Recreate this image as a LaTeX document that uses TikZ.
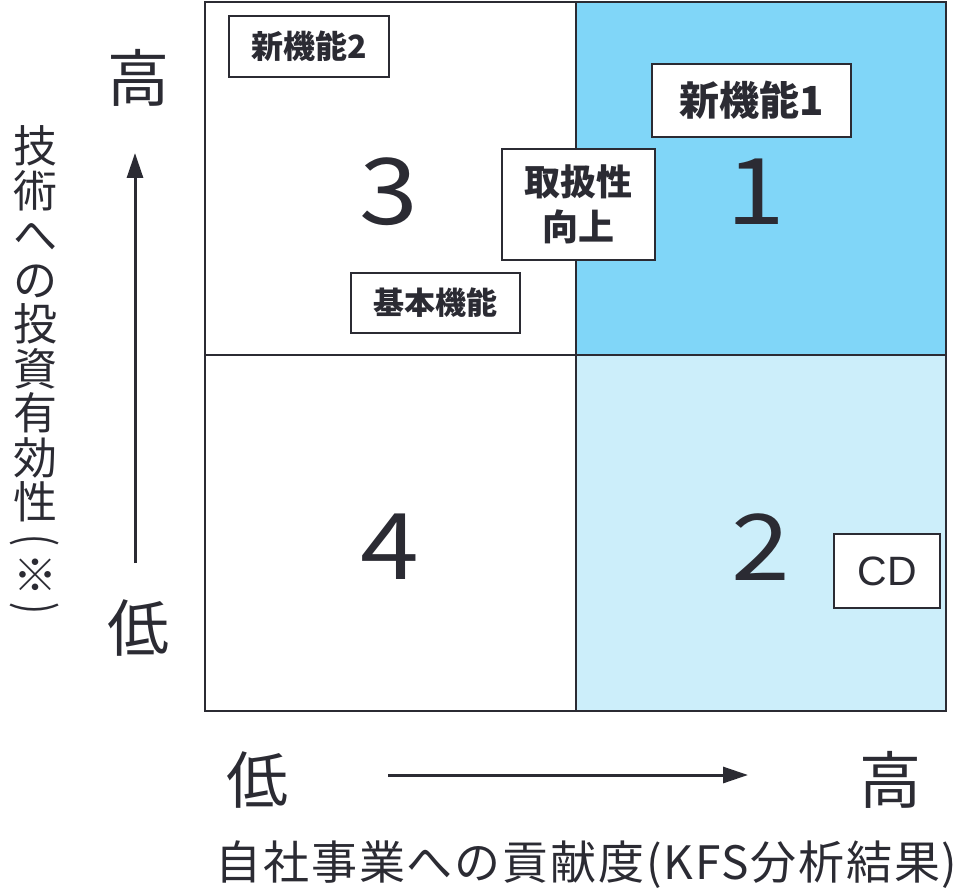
\documentclass[tikz,border=0pt]{standalone}
\usepackage{fontspec}
\setmainfont{Noto Sans CJK JP}
\newfontfamily\latinsans{Liberation Sans}
\usetikzlibrary{arrows.meta}
\definecolor{ink}{HTML}{2B2B33}
\definecolor{qone}{HTML}{80D6F8}
\definecolor{qtwo}{HTML}{CCEEFA}
\newcommand{\widedigit}[1]{\scalebox{1.15}[1]{#1}}
\tikzset{
  tag/.style={draw=ink, line width=1.8pt, fill=white, inner sep=0pt, text=ink},
  bignum/.style={font=\fontsize{92}{92}\selectfont, text=ink, inner sep=0pt},
  axislbl/.style={font=\fontsize{62}{62}\selectfont, text=ink, inner sep=0pt},
  axisarrow/.style={draw=ink, line width=3pt, -{Triangle[length=25pt,width=16pt]}},
  gridline/.style={draw=ink, line width=2.5pt},
  vtext/.style={text=ink, inner sep=0pt, font=\fontsize{44}{44.5}\selectfont},
}
\begin{document}
\begin{tikzpicture}[x=1pt,y=-1pt]
\useasboundingbox (0,0) rectangle (961,893);
% quadrants
\fill[qone] (576,2) rectangle (946,355);
\fill[qtwo] (576,355) rectangle (946,711);
\draw[gridline] (205,2) rectangle (946,711);
\draw[gridline] (576,2) -- (576,711);
\draw[gridline] (205,355) -- (946,355);
% big numbers
\node[bignum] (n3) at (389,192) {\widedigit{3}};
\node[bignum] (n1) at (756,192) {\widedigit{1}};
\node[bignum] (n4) at (390,547) {\widedigit{4}};
\node[bignum] (n2) at (761,547) {\widedigit{2}};
% tags
\node[tag, minimum width=160pt, minimum height=61pt, font=\bfseries\fontsize{32}{32}\selectfont] (nf2) at (309,46.5) {新機能2};
\node[tag, minimum width=199pt, minimum height=73pt, font=\bfseries\fontsize{40}{40}\selectfont] (nf1) at (751.5,100.5) {新機能1};
\node[tag, minimum width=169pt, minimum height=60pt, font=\bfseries\fontsize{31}{31}\selectfont] (kihon) at (435.5,303) {基本機能};
\node[tag, minimum width=153pt, minimum height=111pt, align=center, font=\bfseries\fontsize{36}{45}\selectfont] (toriatsukai) at (578.5,204.5) {取扱性\\向上};
\node[tag, minimum width=106pt, minimum height=74pt, font=\latinsans\fontsize{41}{41}\selectfont] (cd) at (887,571) {CD};
% axis end labels
\node[axislbl] (yhigh) at (138,78) {高};
\node[axislbl] (ylow) at (138,628) {低};
\node[axislbl] (xlow) at (257,780) {低};
\node[axislbl] (xhigh) at (890,780) {高};
% axis arrows
\coordinate (ya0) at (135,563);
\coordinate (ya1) at (135,153);
\draw[axisarrow] (ya0) -- (ya1);
\coordinate (xa0) at (388,775);
\coordinate (xa1) at (748,775);
\draw[axisarrow] (xa0) -- (xa1);
% vertical axis title
\node[vtext, align=center] (vlabel) at (35,324) {技\\術\\へ\\の\\投\\資\\有\\効\\性};
\node[vtext] (vlp) at (35,540) {\rotatebox{-90}{\scalebox{0.8}[1.1]{(}}};
\node[vtext] (vmark) at (35,575) {※};
\node[vtext] (vrp) at (35,608) {\rotatebox{-90}{\scalebox{0.8}[1.1]{)}}};
% horizontal axis title
\node[text=ink, inner sep=0pt, font=\fontsize{46}{46}\selectfont\addfontfeatures{LetterSpace=4}] (xlabel) at (586.5,865) {自社事業への貢献度(KFS分析結果)};
\end{tikzpicture}
\end{document}
